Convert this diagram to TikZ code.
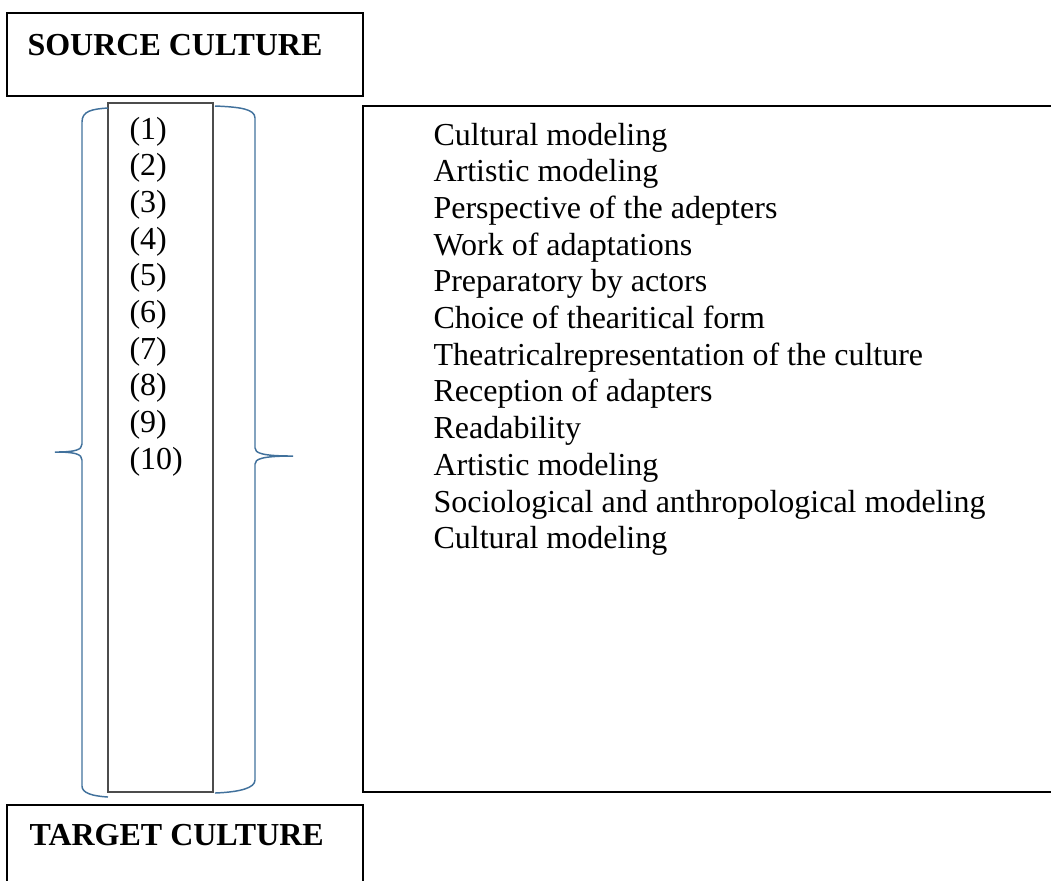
\documentclass[tikz,border=0pt]{standalone}
\usepackage{fontspec}
\setmainfont{Liberation Serif}

\definecolor{bracecol}{RGB}{65,113,156}

\tikzset{
  frame/.style={draw=black, line width=0.6pt},
  numframe/.style={draw=black!70, line width=0.75pt},
  brace/.style={draw=bracecol, line width=0.55pt},
  item/.style={anchor=base west, inner sep=0pt},
  head/.style={anchor=base west, inner sep=0pt, font=\fontsize{12}{13.8}\selectfont\bfseries}
}

\begin{document}
\begin{tikzpicture}[x=0.375pt, y=-0.375pt, font=\fontsize{12}{13.8}\selectfont]

    % parameters: row pitch and first baselines
    \def\Row{36.7}
    \def\NumY{139}
    \def\TxtY{145}

    \useasboundingbox (0,0) rectangle (1051,880);

    % culture boxes
    \draw[frame] (7,13) rectangle (363,96);
    \node[head] (src) at (27,55) {SOURCE CULTURE};
    \draw[frame] (7,805) rectangle (363,900);
    \node[head] (tgt) at (29,845) {TARGET CULTURE};

    % column of numbers and the list box
    \draw[numframe] (108,103) rectangle (213,792);
    \draw[frame] (363,106) rectangle (1070,792);

    % braces
    \draw[brace] (108,108) .. controls (92,109) and (82,111) .. (82,122) -- (82,444)
        .. controls (82,450) and (75,452) .. (55,452)
        .. controls (75,452) and (82,454) .. (82,460) -- (82,786)
        .. controls (82,793) and (92,796) .. (108,797);
    \draw[brace] (215,106) .. controls (240,107) and (255,109) .. (255,118) -- (255,448)
        .. controls (255,453) and (262,456) .. (293,456)
        .. controls (262,456) and (255,459) .. (255,464) -- (255,780)
        .. controls (255,788) and (240,792) .. (215,793);

    % numbers
    \foreach \k in {1,...,10}
        \node[item] (n\k) at (129,{\NumY+(\k-1)*\Row}) {(\k)};

    % list of items
    \foreach \txt [count=\k] in {Cultural modeling, Artistic modeling,
        Perspective of the adepters, Work of adaptations, Preparatory by actors,
        Choice of thearitical form, Theatricalrepresentation of the culture,
        Reception of adapters, Readability, Artistic modeling,
        Sociological and anthropological modeling, Cultural modeling}
        \node[item] (t\k) at (433,{\TxtY+(\k-1)*\Row}) {\txt};

\end{tikzpicture}
\end{document}
